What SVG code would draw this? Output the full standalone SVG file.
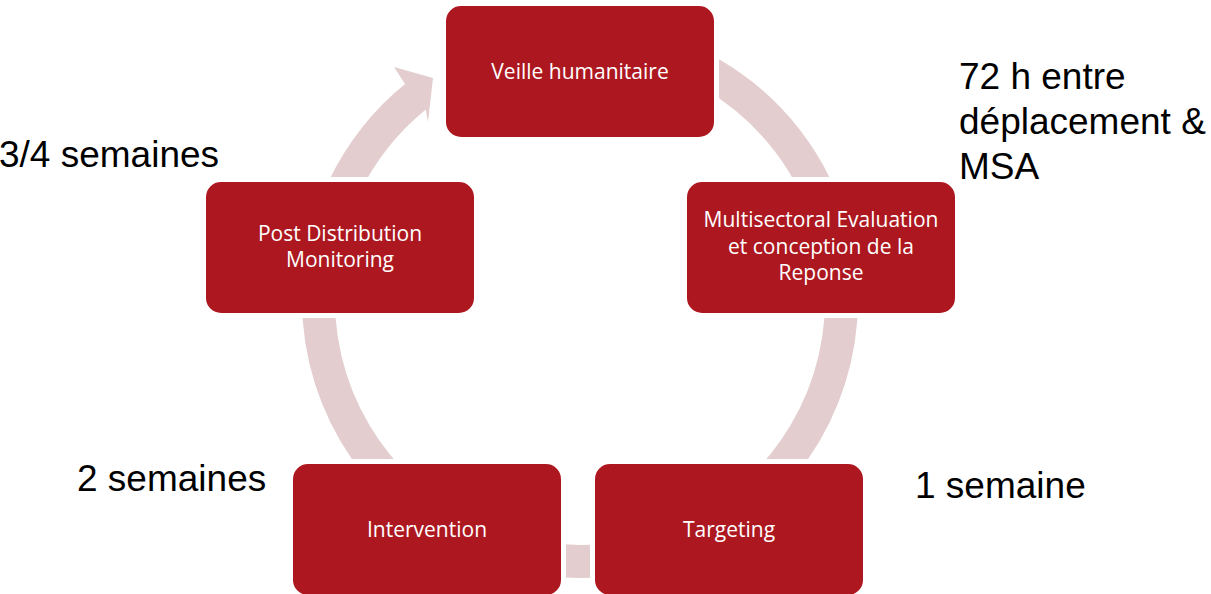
<svg xmlns="http://www.w3.org/2000/svg" width="1211" height="594" viewBox="0 0 1211 594">
  <style>
    .arc { fill: #E3CDCE; stroke: none; }
    .halo { fill: #FFFFFF; }
    .box { fill: #AD1820; }
    .nt { fill: #FFFFFF; font-family: "Open Sans", "Noto Sans", sans-serif; font-size: 21px; text-anchor: middle; }
    .lbl { fill: #000000; font-family: "Liberation Sans", Arial, sans-serif; font-size: 37px; }
  </style>
  <rect width="1211" height="594" fill="#FFFFFF"/>
  <g id="connectors">
    <!-- ring center (580,300), outer r 278, inner r 245 -->
    <path id="c1" class="arc" d="M 719 59.25 A 278 278 0 0 1 848.53 228.05 L 816.65 236.59 A 245 245 0 0 0 702.5 87.82 Z"/>
    <path id="c2" class="arc" d="M 858 300 A 278 278 0 0 1 675.08 561.24 L 663.8 530.22 A 245 245 0 0 0 825 300 Z"/>
    <path id="c3" class="arc" d="M 675.08 561.24 A 278 278 0 0 1 484.92 561.24 L 496.2 530.22 A 245 245 0 0 0 663.8 530.22 Z"/>
    <path id="c4" class="arc" d="M 484.92 561.24 A 278 278 0 0 1 302 300 L 335 300 A 245 245 0 0 0 496.2 530.22 Z"/>
    <path id="c5" class="arc" d="M 302 300 A 278 278 0 0 1 405.05 83.96 L 394 67 L 433 78 L 428 122 L 425.82 109.6 A 245 245 0 0 0 335 300 Z"/>
  </g>
  <g id="halos">
    <rect class="halo" x="441" y="1" width="278" height="141" rx="20"/>
    <rect class="halo" x="682" y="177" width="278" height="141" rx="20"/>
    <rect class="halo" x="201" y="177" width="278" height="141" rx="20"/>
    <rect class="halo" x="288" y="459" width="278" height="141" rx="20"/>
    <rect class="halo" x="590" y="459" width="278" height="141" rx="20"/>
  </g>
  <g id="node-veille">
    <rect class="box" x="446" y="6" width="268" height="131" rx="15"/>
    <text class="nt" x="580" y="79">Veille humanitaire</text>
  </g>
  <g id="node-multisectoral">
    <rect class="box" x="687" y="182" width="268" height="131" rx="15"/>
    <text class="nt" x="821" y="227">Multisectoral Evaluation</text>
    <text class="nt" x="821" y="253.5">et conception de la</text>
    <text class="nt" x="821" y="280">Reponse</text>
  </g>
  <g id="node-targeting">
    <rect class="box" x="595" y="464" width="268" height="131" rx="15"/>
    <text class="nt" x="729" y="537">Targeting</text>
  </g>
  <g id="node-intervention">
    <rect class="box" x="293" y="464" width="268" height="131" rx="15"/>
    <text class="nt" x="427" y="537">Intervention</text>
  </g>
  <g id="node-pdm">
    <rect class="box" x="206" y="182" width="268" height="131" rx="15"/>
    <text class="nt" x="340" y="240.5">Post Distribution</text>
    <text class="nt" x="340" y="267">Monitoring</text>
  </g>
  <g id="labels">
    <text class="lbl" x="959" y="89">72 h entre</text>
    <text class="lbl" x="959" y="134">déplacement &amp;</text>
    <text class="lbl" x="959" y="179">MSA</text>
    <text class="lbl" x="-1" y="167">3/4 semaines</text>
    <text class="lbl" x="77" y="491">2 semaines</text>
    <text class="lbl" x="915" y="498">1 semaine</text>
  </g>
</svg>
